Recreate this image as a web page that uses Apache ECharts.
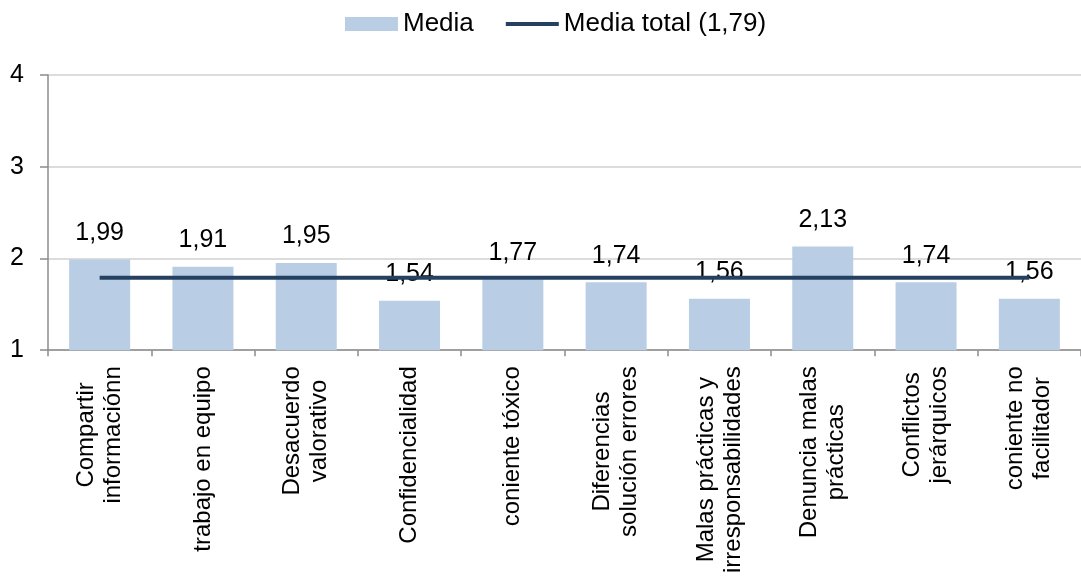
<!DOCTYPE html>
<html>
<head>
<meta charset="utf-8">
<script src="https://cdn.jsdelivr.net/npm/echarts@6/dist/echarts.min.js"></script>
<style>
html,body{margin:0;padding:0;background:#fff;}
#c{width:1081px;height:576px;}
</style>
</head>
<body>
<div id="c"></div>
<script>
const categories = [
  "Compartir\ninformaciónn",
  "trabajo en equipo",
  "Desacuerdo\nvalorativo",
  "Confidencialidad",
  "coniente tóxico",
  "Diferencias\nsolución errores",
  "Malas prácticas y\nirresponsabilidades",
  "Denuncia malas\nprácticas",
  "Conflictos\njerárquicos",
  "coniente no\nfacilitador"
];
const mediaValues = [1.99, 1.91, 1.95, 1.54, 1.77, 1.74, 1.56, 2.13, 1.74, 1.56];
const mediaTotalValues = [1.79, 1.79, 1.79, 1.79, 1.79, 1.79, 1.79, 1.79, 1.79, 1.79];
const yTicks = [1, 2, 3, 4];

const FONT = '"Liberation Sans", Arial, sans-serif';
const chart = echarts.init(document.getElementById('c'), null, {renderer: 'canvas'});
chart.setOption({
  animation: false,
  backgroundColor: '#ffffff',
  textStyle: {fontFamily: FONT},
  legend: {
    top: 6,
    left: 340,
    itemGap: 32,
    itemWidth: 53,
    itemHeight: 14,
    symbolKeepAspect: true,
    textStyle: {fontFamily: FONT, fontSize: 26, color: '#000'},
    data: [
      {name: 'Media', icon: 'rect'},
      {name: 'Media total (1,79)', icon: 'path://M0,0 h54 v4 h-54 z', itemStyle: {color: '#254061'}}
    ]
  },
  grid: {left: 48, top: 75, width: 1040, height: 280, containLabel: false},
  xAxis: {
    type: 'category',
    data: categories,
    axisLine: {lineStyle: {color: '#8c8c8c', width: 1.5}},
    axisTick: {show: true, length: 6, alignWithLabel: false, lineStyle: {color: '#8c8c8c', width: 1.5}},
    axisLabel: {
      rotate: 90,
      interval: 0,
      margin: 16,
      color: '#000',
      fontFamily: FONT,
      fontSize: 24,
      lineHeight: 27,
      formatter: function (v) {
        return v.split('\n').map(function (s) { return '{c|' + s + '}'; }).join('\n');
      },
      rich: {c: {align: 'center', fontFamily: FONT, fontSize: 24, lineHeight: 27, color: '#000'}}
    }
  },
  yAxis: {
    type: 'value',
    min: yTicks[0],
    max: yTicks[yTicks.length - 1],
    interval: 1,
    axisLine: {show: true, lineStyle: {color: '#8c8c8c', width: 1.5}},
    axisTick: {show: true, length: 8, lineStyle: {color: '#8c8c8c', width: 1.5}},
    axisLabel: {margin: 24, color: '#000', fontFamily: FONT, fontSize: 25},
    splitLine: {show: true, lineStyle: {color: '#d0d0d0', width: 1.5}}
  },
  series: [
    {
      name: 'Media',
      type: 'bar',
      data: mediaValues,
      barWidth: 61,
      itemStyle: {color: '#B9CDE5'},
      label: {
        show: true,
        position: 'top',
        distance: 14,
        color: '#000',
        fontFamily: FONT,
        fontSize: 25,
        formatter: function (p) { return p.value.toFixed(2).replace('.', ','); }
      },
      z: 2
    },
    {
      name: 'Media total (1,79)',
      type: 'line',
      data: mediaTotalValues,
      symbol: 'none',
      showSymbol: false,
      lineStyle: {color: '#254061', width: 4},
      itemStyle: {color: '#254061'},
      z: 3
    }
  ]
});
</script>
</body>
</html>
